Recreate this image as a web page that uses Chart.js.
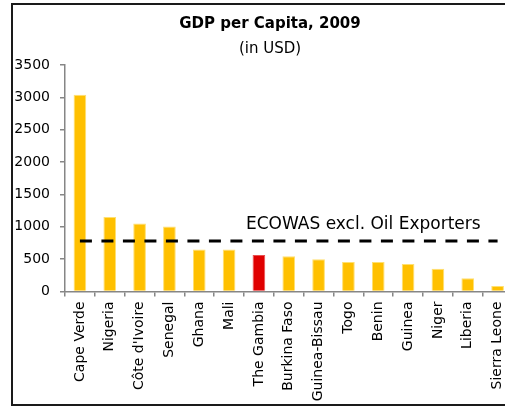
<!DOCTYPE html>
<html>
<head>
<meta charset="utf-8">
<script src="https://cdn.jsdelivr.net/npm/chart.js@4/dist/chart.umd.min.js"></script>
<style>
  html, body { margin: 0; padding: 0; background: #fff; overflow: hidden; }
  #c { position: absolute; left: 0; top: 0; display: block; }
</style>
</head>
<body>
<canvas id="c" width="528" height="407"></canvas>
<script>
// ---- data ----
const categories = ['Cape Verde', 'Nigeria', "Côte d'Ivoire", 'Senegal', 'Ghana', 'Mali', 'The Gambia',
  'Burkina Faso', 'Guinea-Bissau', 'Togo', 'Benin', 'Guinea', 'Niger', 'Liberia', 'Sierra Leone'];
const gdpPerCapita = [3040, 1150, 1050, 1005, 650, 650, 565, 545, 500, 455, 455, 425, 350, 205, 85];
const referenceLabel = 'ECOWAS excl. Oil Exporters';
const referenceValue = 780;
const highlighted = 'The Gambia';
const yTicks = [0, 500, 1000, 1500, 2000, 2500, 3000, 3500];
const titleText = 'GDP per Capita, 2009';
const subtitleText = '(in USD)';

const FONT = 'DejaVu Sans';
const AXIS = '#868686';

const framePlugin = {
  id: 'frame',
  afterDraw(chart) {
    const ctx = chart.ctx;
    ctx.save();
    ctx.strokeStyle = '#1a1a1a';
    ctx.lineWidth = 2;
    ctx.beginPath();
    ctx.moveTo(chart.width + 10, 4);
    ctx.lineTo(12, 4);
    ctx.lineTo(12, 405);
    ctx.lineTo(chart.width + 10, 405);
    ctx.stroke();
    ctx.restore();
  }
};

const refLabelPlugin = {
  id: 'refLabel',
  afterDatasetsDraw(chart) {
    const x = chart.scales.x.getPixelForValue(9.5);
    const y = chart.scales.y.getPixelForValue(965);
    const ctx = chart.ctx;
    ctx.save();
    ctx.font = '17px "' + FONT + '"';
    ctx.fillStyle = '#000';
    ctx.textAlign = 'center';
    ctx.textBaseline = 'alphabetic';
    ctx.fillText(referenceLabel, x, y);
    ctx.restore();
  }
};

new Chart(document.getElementById('c'), {
  data: {
    labels: categories,
    datasets: [
      {
        type: 'line',
        data: categories.map(() => referenceValue),
        borderColor: '#000',
        borderWidth: 3,
        borderDash: [12, 9.5],
        pointRadius: 0,
        fill: false,
        order: 0
      },
      {
        type: 'bar',
        data: gdpPerCapita,
        backgroundColor: c => categories[c.dataIndex] === highlighted ? '#E00000' : '#FFC000',
        borderColor: c => categories[c.dataIndex] === highlighted ? '#E85050' : '#FFE070',
        borderWidth: 1,
        barPercentage: 0.425,
        categoryPercentage: 1,
        order: 1
      }
    ]
  },
  options: {
    responsive: false,
    animation: false,
    devicePixelRatio: 1,
    layout: { padding: { left: 12, right: 0, top: 0, bottom: 0 } },
    plugins: {
      legend: { display: false },
      tooltip: { enabled: false },
      title: {
        display: true, text: titleText, color: '#000',
        font: { family: FONT, size: 15, weight: 'bold' },
        padding: { top: 15, bottom: 0 }
      },
      subtitle: {
        display: true, text: subtitleText, color: '#000',
        font: { family: FONT, size: 15 },
        padding: { top: 7, bottom: 7 }
      }
    },
    scales: {
      x: {
        offset: true,
        grid: { display: true, drawOnChartArea: false, drawTicks: true, tickLength: 5, color: AXIS, lineWidth: 1.5, offset: true },
        border: { display: true, color: AXIS, width: 1.5 },
        ticks: { color: '#000', font: { family: FONT, size: 14 }, minRotation: 90, maxRotation: 90, autoSkip: false, padding: 5 },
        afterFit: s => { s.height = 115.5; }
      },
      y: {
        min: 0, max: 3500,
        afterBuildTicks: s => { s.ticks = yTicks.map(v => ({ value: v })); },
        grid: { display: true, drawOnChartArea: false, drawTicks: true, tickLength: 5, color: AXIS, lineWidth: 1.5 },
        border: { display: true, color: AXIS, width: 1.5 },
        ticks: { color: '#000', font: { family: FONT, size: 14 }, padding: 10, callback: v => String(v) },
        afterFit: s => { s.width = 53; }
      },
      y2: {
        position: 'right',
        display: true,
        grid: { display: false, drawTicks: false },
        border: { display: false },
        ticks: { display: false },
        afterFit: s => { s.width = 15.5; }
      }
    }
  },
  plugins: [refLabelPlugin, framePlugin]
});
</script>
</body>
</html>
